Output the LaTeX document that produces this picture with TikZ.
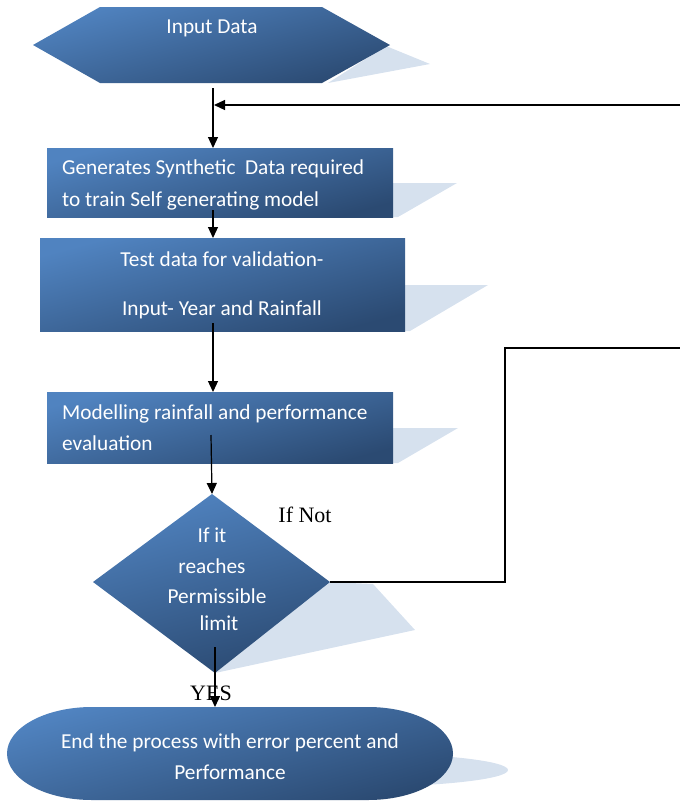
\documentclass[tikz,border=0pt]{standalone}
\usepackage{fontspec}
\setmainfont{Carlito}
\newfontfamily\timesf{Liberation Serif}
\usetikzlibrary{arrows.meta}
\definecolor{bluelight}{HTML}{5083C0}
\definecolor{bluedark}{HTML}{2B4A72}
\definecolor{shadowc}{HTML}{D6E1EE}
\begin{document}
\begin{tikzpicture}[x=1pt,y=-1pt,
  fillshape/.style={top color=bluelight,bottom color=bluedark,shading angle=15,draw=none},
  boxnode/.style={fillshape,inner sep=0pt,outer sep=0pt},
  shadowshape/.style={fill=shadowc,draw=none},
  btext/.style={text=white,font=\fontsize{21.3}{25}\selectfont,inner sep=0pt},
  ltext/.style={font=\timesf\fontsize{22}{26}\selectfont,inner sep=0pt},
  conn/.style={line width=1.2pt,-{Triangle[length=11pt,width=10pt]}},
  plainline/.style={line width=1.2pt}]
\useasboundingbox (0,0) rectangle (680,801);

% ---- Input Data hexagon
\fill[shadowshape] (386,46) -- (430,64) -- (328,83) -- cycle;
\shade[fillshape] (33,45) -- (100,7) -- (322,7) -- (390,45) -- (322,83) -- (100,83) -- cycle;
\node[btext] (t0) at (212,28) {Input Data};
\coordinate (h0) at (213,88);

% ---- Box 1
\fill[shadowshape] (392,183) -- (457,183) -- (398,217) -- (392,217) -- cycle;
\node[boxnode,minimum width=346pt,minimum height=69pt] (b1) at (220,182.5) {};
\node[btext,anchor=west] (t1a) at (62,169) {Generates Synthetic\ \ Data required};
\node[btext,anchor=west] (t1b) at (62,201) {to train Self generating model};
\coordinate (b1out) at (213,210);

% ---- Box 2
\fill[shadowshape] (404,285) -- (488,285) -- (410,331) -- (404,331) -- cycle;
\node[boxnode,minimum width=365pt,minimum height=93pt] (b2) at (222.5,284.5) {};
\node[btext] (t2a) at (222,259) {Test data for validation-};
\node[btext] (t2b) at (222,310) {Input- Year and Rainfall};
\coordinate (b2out) at (213,323);

% ---- Box 3
\fill[shadowshape] (392,428) -- (458,428) -- (398,463) -- (392,463) -- cycle;
\node[boxnode,minimum width=346pt,minimum height=71pt] (b3) at (220,427.5) {};
\node[btext,anchor=west] (t3a) at (62,414) {Modelling rainfall and performance};
\node[btext,anchor=west] (t3b) at (62,443) {evaluation};
\coordinate (b3out) at (211,435);

% ---- Decision diamond
\coordinate (dtop) at (212,494);
\coordinate (dright) at (330,582);
\coordinate (dbottom) at (215,673);
\coordinate (dleft) at (93,582);
\fill[shadowshape] (328,582) -- (373,584) -- (415,630) -- (215,673) -- cycle;
\shade[fillshape] (dtop) -- (dright) -- (dbottom) -- (dleft) -- cycle;
\node[btext] (d1) at (212,535) {If it};
\node[btext] (d2) at (212,566) {reaches};
\node[btext] (d3) at (217,596) {Permissible};
\node[btext] (d4) at (219,623) {limit};
\coordinate (dout) at (215,647);

% ---- End terminator
\fill[shadowshape] (350,770) ellipse [x radius=158, y radius=17];
\shade[fillshape] (92,707) -- (368,707)
  arc[start angle=-90,end angle=90,x radius=85,y radius=46.5]
  -- (92,800)
  arc[start angle=90,end angle=270,x radius=85,y radius=46.5] -- cycle;
\coordinate (etop) at (215,707);
\node[btext] (e1) at (230,743) {End the process with error percent and};
\node[btext] (e2) at (230,772) {Performance};

% ---- Labels
\node[ltext] (lnot) at (305,515) {If Not};
\node[ltext] (lyes) at (211,693) {YES};

% ---- Connectors
\draw[conn] (h0) -- (h0 |- b1.north);
\draw[conn] (b1out) -- (b1out |- b2.north);
\draw[conn] (b2out) -- (b2out |- b3.north);
\draw[conn] (b3out) -- (dtop);
\draw[conn] (dout) -- (etop);

\coordinate (loopA) at (505,582);
\coordinate (loopB) at (505,348);
\coordinate (loopC) at (680,348);
\coordinate (loopD) at (680,105);
\coordinate (loopE) at (214,105);
\draw[plainline] (dright) -- (loopA) -- (loopB) -- (loopC);
\draw[conn] (loopD) -- (loopE);
\end{tikzpicture}
\end{document}
